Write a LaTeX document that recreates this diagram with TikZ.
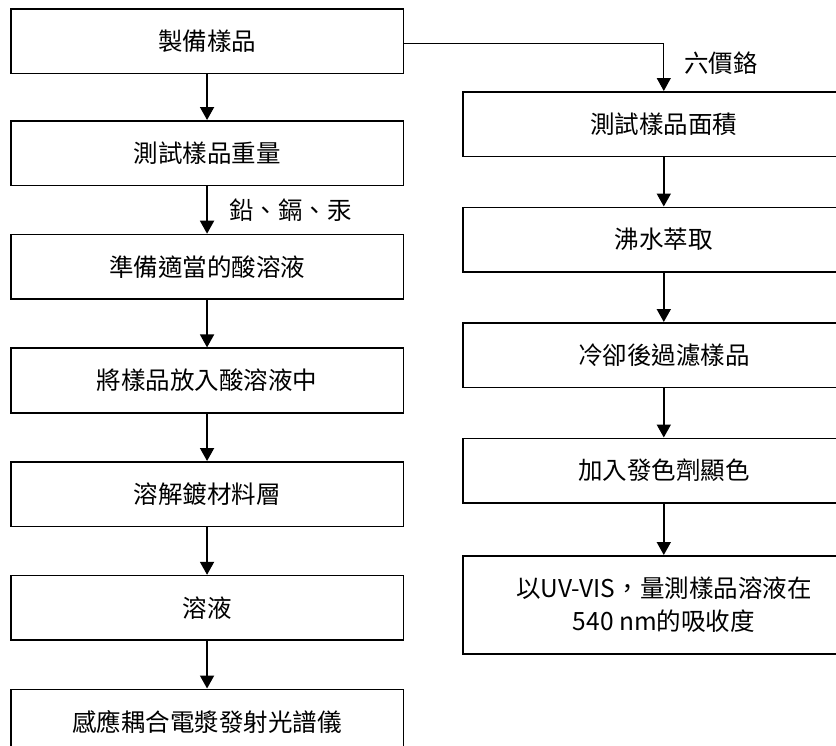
\documentclass[tikz,border=0pt]{standalone}
\usepackage{fontspec}
\setmainfont{Noto Sans CJK TC}[Script=CJK, Language=Chinese Traditional]
\usetikzlibrary{arrows.meta}
\begin{document}
\begin{tikzpicture}[x=1pt,y=-1pt,
 box/.style={draw=black, line width=1.6pt, minimum width=392.5pt, minimum height=64.5pt, inner sep=0pt, font=\fontsize{24.5}{33}\selectfont, anchor=north west},
 rbox/.style={box, minimum width=402pt},
 arr/.style={line width=1.8pt, -{Triangle[width=14pt,length=13pt]}},
 elbow/.style={line width=1.1pt, -{Triangle[width=14pt,length=13pt]}},
 lbl/.style={font=\fontsize{24.5}{28}\selectfont, anchor=west, inner sep=0pt}]
\useasboundingbox (0,0) rectangle (836,745);
\clip (0,0) rectangle (836,745);
\fill[white] (0,0) rectangle (836,745);
% left column
\node[box] (l1) at (10,8.3) {製備樣品};
\node[box] (l2) at (10,120) {測試樣品重量};
\node[box] (l3) at (10,233.7) {準備適當的酸溶液};
\node[box] (l4) at (10,347.4) {將樣品放入酸溶液中};
\node[box] (l5) at (10,461) {溶解鍍材料層};
\node[box] (l6) at (10,574.8) {溶液};
\node[box] (l7) at (10,688.5) {感應耦合電漿發射光譜儀};
% right column
\node[rbox] (r1) at (462,91) {測試樣品面積};
\node[rbox] (r2) at (462,206.5) {沸水萃取};
\node[rbox] (r3) at (462,322) {冷卻後過濾樣品};
\node[rbox] (r4) at (462,437.5) {加入發色劑顯色};
\node[rbox, minimum height=98pt, align=center] (r5) at (462,555) {以UV-VIS，量測樣品溶液在\\540 nm的吸收度};
% arrows
\draw[arr] (l1) -- (l2);
\draw[arr] (l2) -- (l3);
\draw[arr] (l3) -- (l4);
\draw[arr] (l4) -- (l5);
\draw[arr] (l5) -- (l6);
\draw[arr] (l6) -- (l7);
\draw[arr] (r1) -- (r2);
\draw[arr] (r2) -- (r3);
\draw[arr] (r3) -- (r4);
\draw[arr] (r4) -- (r5);
\coordinate (e1) at ([yshift=-2.5pt]l1.east);
\draw[elbow] (e1) -| (r1.north);
% labels
\node[lbl] (t1) at (684,63) {六價鉻};
\node[lbl] (t2) at (229,210) {鉛、鎘、汞};
\end{tikzpicture}
\end{document}
